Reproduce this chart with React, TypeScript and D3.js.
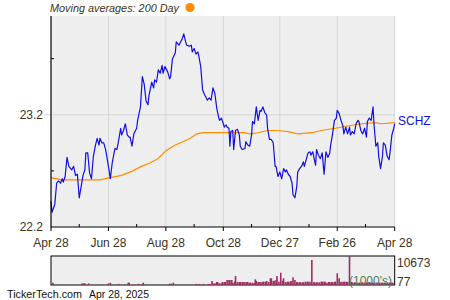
import React from "react";
import * as d3 from "d3";

const startDate = new Date(2024, 3, 28);
const endDate = new Date(2025, 3, 28);

// day offsets from Apr 28, 2024
const priceDays = [
  0, 1, 4, 6, 8, 10, 12, 13, 15, 17,
  19, 22, 24, 26, 28, 30, 32, 34, 36, 37,
  39, 41, 43, 45, 47, 49, 51, 52, 54, 56,
  58, 59, 61, 63, 65, 67, 68, 70, 72, 74,
  75, 77, 79, 81, 83, 84, 86, 88, 91, 92,
  95, 97, 99, 101, 103, 104, 107, 109, 110, 112,
  114, 116, 118, 119, 121, 124, 126, 127, 129, 132,
  133, 136, 137, 139, 141, 143, 144, 147, 149, 150,
  152, 154, 156, 157, 159, 161, 163, 165, 166, 168,
  170, 172, 174, 176, 178, 179, 181, 183, 184, 186,
  187, 189, 190, 191, 193, 194, 196, 198, 200, 201,
  203, 206, 207, 209, 211, 213, 214, 216, 218, 220,
  222, 223, 225, 227, 229, 230, 232, 234, 236, 238,
  239, 241, 243, 245, 247, 249, 250, 252, 254, 256,
  257, 259, 261, 262, 264, 266, 268, 269, 271, 273,
  275, 276, 278, 281, 282, 284, 286, 288, 290, 292,
  294, 296, 297, 299, 301, 303, 304, 306, 308, 310,
  311, 313, 315, 317, 318, 320, 322, 324, 326, 327,
  329, 331, 333, 335, 336, 338, 340, 342, 343, 345,
  347, 348, 350, 352, 353, 355, 357, 359, 360, 362,
  364, 365,
];
const prices = [
  22.43, 22.33, 22.40, 22.59, 22.61, 22.59, 22.63, 22.60, 22.65, 22.82,
  22.74, 22.71, 22.74, 22.66, 22.67, 22.46, 22.56, 22.66, 22.71, 22.86,
  22.86, 22.68, 22.63, 22.83, 22.92, 22.99, 22.93, 22.99, 22.95, 22.95,
  22.89, 22.84, 22.74, 22.63, 22.77, 22.86, 22.90, 22.89, 22.98, 23.08,
  23.02, 23.06, 23.12, 23.02, 23.00, 23.00, 22.92, 23.03, 23.08, 23.15,
  23.27, 23.54, 23.47, 23.32, 23.29, 23.37, 23.49, 23.44, 23.51, 23.49,
  23.60, 23.57, 23.64, 23.57, 23.63, 23.58, 23.52, 23.54, 23.70, 23.75,
  23.85, 23.82, 23.84, 23.87, 23.92, 23.85, 23.82, 23.81, 23.82, 23.76,
  23.79, 23.74, 23.76, 23.72, 23.63, 23.42, 23.38, 23.35, 23.33, 23.35,
  23.33, 23.44, 23.39, 23.26, 23.18, 23.15, 23.17, 23.12, 23.09, 23.11,
  23.09, 23.08, 22.92, 23.05, 23.06, 22.89, 23.06, 23.07, 23.02, 22.92,
  22.89, 22.90, 22.96, 22.93, 22.92, 23.02, 23.14, 23.12, 23.27, 23.15,
  23.24, 23.23, 23.27, 23.22, 23.20, 23.08, 22.98, 22.98, 22.95, 22.74,
  22.74, 22.65, 22.69, 22.63, 22.72, 22.69, 22.71, 22.67, 22.65, 22.59,
  22.49, 22.46, 22.56, 22.69, 22.72, 22.74, 22.78, 22.74, 22.80, 22.86,
  22.87, 22.84, 22.87, 22.75, 22.89, 22.84, 22.81, 22.86, 22.67, 22.87,
  22.82, 22.86, 22.93, 23.03, 23.15, 23.17, 23.24, 23.21, 23.15, 23.10,
  23.03, 23.09, 23.03, 23.09, 23.02, 23.05, 23.03, 23.12, 23.15, 23.14,
  23.06, 23.03, 23.08, 23.00, 23.14, 23.17, 23.15, 23.27, 23.12, 22.92,
  22.95, 22.83, 22.72, 22.83, 22.95, 22.93, 22.83, 22.80, 22.86, 23.02,
  23.08, 23.12,
];

const maDays = [0, 12, 34, 52, 63, 75, 87, 96, 105, 114, 122, 132, 140, 148, 155, 161, 185, 205, 211, 220, 230, 241, 252, 262, 277, 287, 302, 315, 330, 344, 351, 365];
const maValues = [22.64, 22.62, 22.62, 22.62, 22.64, 22.66, 22.70, 22.74, 22.77, 22.81, 22.88, 22.93, 22.96, 22.99, 23.03, 23.04, 23.04, 23.04, 23.03, 23.04, 23.06, 23.06, 23.05, 23.03, 23.04, 23.06, 23.08, 23.10, 23.12, 23.13, 23.12, 23.13];

const volumeDays = [
  2, 33, 35, 36, 40, 61, 63, 72, 82, 83,
  93, 97, 98, 126, 128, 130, 154, 157, 162, 167,
  169, 171, 172, 174, 176, 177, 179, 181, 182, 184,
  185, 187, 189, 190, 192, 193, 195, 196, 198, 200,
  201, 203, 204, 206, 208, 209, 211, 212, 214, 216,
  217, 218, 220, 221, 223, 225, 226, 228, 229, 231,
  233, 234, 236, 237, 239, 240, 242, 244, 246, 247,
  249, 251, 252, 254, 255, 257, 259, 261, 262, 264,
  265, 267, 268, 270, 272, 273, 275, 277, 279, 280,
  282, 283, 285, 287, 288, 290, 291, 293, 295, 296,
  298, 299, 301, 302, 304, 306, 307, 309, 311, 312,
  314, 315, 317, 319, 320, 322, 323, 325, 327, 328,
  330, 331, 333, 335, 336, 338, 339, 341, 342, 344,
  346, 347, 349, 351, 352, 354, 355, 357, 359, 360,
  362, 363,
];
const volumes = [
  846, 600, 600, 600, 600, 600, 846, 400, 846, 846,
  400, 400, 846, 500, 500, 846, 400, 400, 400, 368,
  368, 1472, 626, 626, 1104, 1104, 626, 626, 1104, 1104,
  1104, 1840, 1840, 1840, 1840, 736, 1288, 3312, 1104, 1104,
  1104, 1104, 1104, 1104, 1104, 1104, 846, 846, 846, 736,
  2098, 1472, 1104, 1104, 1104, 1214, 1214, 1214, 1472, 1104,
  2466, 2466, 1472, 1582, 1840, 3312, 1214, 4526, 1582, 2466,
  1104, 1214, 1214, 1214, 1472, 2834, 1840, 1104, 994, 994,
  994, 994, 994, 1214, 1214, 1214, 1214, 9200, 994, 994,
  994, 994, 994, 1214, 1214, 1214, 1214, 846, 1104, 1104,
  1104, 1104, 1104, 1288, 4306, 2466, 1104, 1214, 1214, 1214,
  1214, 1104, 10673, 1104, 920, 920, 920, 846, 846, 846,
  920, 920, 920, 846, 846, 1104, 846, 846, 846, 846,
  846, 846, 846, 846, 846, 846, 846, 846, 846, 846,
  846, 846,
];

const majorTickDates = ["2024-04-28", "2024-06-28", "2024-08-28", "2024-10-28", "2024-12-27", "2025-02-26", "2025-04-28"];
const majorTickLabels = ["Apr 28", "Jun 28", "Aug 28", "Oct 28", "Dec 27", "Feb 26", "Apr 28"];
const minorTickDates = ["2024-05-28", "2024-07-28", "2024-09-27", "2024-11-27", "2025-01-27", "2025-03-28"];
const yMajorTicks = [22.2, 23.2];
const yMinorTicks = [22.7, 23.7];
const volumeLabels = ["10673", "77"];

const parse = d3.timeParse("%Y-%m-%d");
const FONT = "'Liberation Sans', Arial, sans-serif";
const TEXT = "#3c3219";

export default function App() {
  const left = 51, right = 394.7, top = 16, bottom = 227;
  const x = d3.scaleTime().domain([startDate, endDate]).range([left, right]);
  const y = d3.scaleLinear().domain([22.2, 24.08]).range([bottom, top]);
  const vTop = 256, vBottom = 285;
  const vy = d3.scaleLinear().domain([0, 10673]).range([vBottom, vTop]);

  const priceData = priceDays.map((d, i) => ({ date: d3.timeDay.offset(startDate, d), v: prices[i] }));
  const maData = maDays.map((d, i) => ({ date: d3.timeDay.offset(startDate, d), v: maValues[i] }));
  const volData = volumeDays.map((d, i) => ({ date: d3.timeDay.offset(startDate, d), v: volumes[i] }));

  const line = d3.line<{ date: Date; v: number }>().x((d) => x(d.date)).y((d) => y(d.v));

  const majors = majorTickDates.map((s) => parse(s) as Date);
  const minors = minorTickDates.map((s) => parse(s) as Date);

  return (
    <svg width={450} height={300} style={{ position: "absolute", left: 0, top: 0, background: "#fff" }} fontFamily={FONT}>
      <rect x={left} y={top} width={right - left} height={bottom - top} fill="#eeeeee" />
      {majors.slice(1).map((d, i) => (
        <line key={"vg" + i} x1={x(d)} x2={x(d)} y1={top} y2={bottom} stroke="#d6d6d6" strokeWidth={1} />
      ))}
      {yMajorTicks.slice(1).map((t, i) => (
        <line key={"hg" + i} x1={left - 7} x2={right} y1={y(t)} y2={y(t)} stroke="#d6d6d6" strokeWidth={1} />
      ))}
      <path d={line(maData) || ""} fill="none" stroke="#ff8c00" strokeWidth={1.2} />
      <path d={line(priceData) || ""} fill="none" stroke="#1010e0" strokeWidth={1.2} strokeLinejoin="round" />
      <line x1={left} x2={left} y1={top} y2={bottom + 0.5} stroke="#000" strokeWidth={1.2} />
      <line x1={left} x2={right} y1={bottom} y2={bottom} stroke="#000" strokeWidth={1.2} />
      {majors.map((d, i) => (
        <g key={"mt" + i}>
          <line x1={x(d)} x2={x(d)} y1={bottom} y2={bottom + 4} stroke="#000" />
          <text x={x(d)} y={247} fontSize={12} fill={TEXT} textAnchor="middle">{majorTickLabels[i]}</text>
        </g>
      ))}
      {minors.map((d, i) => (
        <line key={"mn" + i} x1={x(d)} x2={x(d)} y1={bottom - 3} y2={bottom} stroke="#000" />
      ))}
      {yMinorTicks.map((t, i) => (
        <line key={"ym" + i} x1={left} x2={left + 3} y1={y(t)} y2={y(t)} stroke="#000" />
      ))}
      {yMajorTicks.map((t, i) => (
        <text key={"yl" + i} x={43} y={y(t) + 4} fontSize={12} fill={TEXT} textAnchor="end">{t.toFixed(1)}</text>
      ))}
      <text x={50} y={12} fontSize={11.5} fontStyle="italic" fill={TEXT} textLength={129} lengthAdjust="spacingAndGlyphs">Moving averages: 200 Day</text>
      <circle cx={190} cy={7.5} r={4.6} fill="#ff8c00" />
      <text x={398} y={125} fontSize={12} fill="#1010e0">SCHZ</text>

      <rect x={left} y={vTop} width={right - left} height={vBottom - vTop} fill="#eeeeee" stroke="#000" strokeWidth={1} />
      {volData.map((d, i) => (
        <rect key={"vb" + i} x={x(d.date) - 0.8} y={vy(d.v)} width={1.6} height={vBottom - vy(d.v)} fill="#9b2f62" />
      ))}
      <text x={349} y={285} fontSize={12} fill="#4f7a5c">(1000's)</text>
      <text x={397} y={267} fontSize={12} fill={TEXT}>{volumeLabels[0]}</text>
      <text x={397} y={286} fontSize={12} fill={TEXT}>{volumeLabels[1]}</text>
      <text x={7} y={298} fontSize={11.5} fill="#111" textLength={75} lengthAdjust="spacingAndGlyphs">TickerTech.com</text>
      <text x={89} y={298} fontSize={11.5} fill="#111" textLength={60} lengthAdjust="spacingAndGlyphs">Apr 28, 2025</text>
    </svg>
  );
}
